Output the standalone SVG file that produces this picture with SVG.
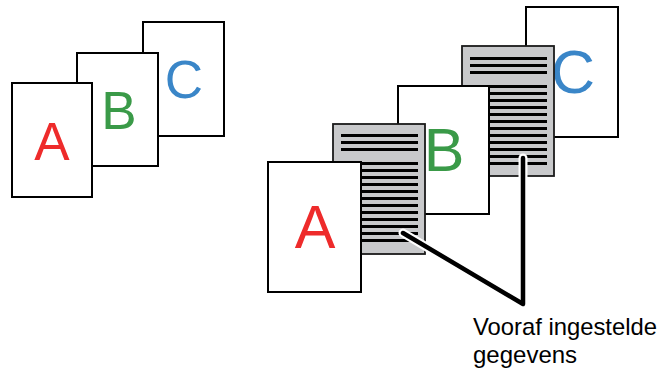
<svg xmlns="http://www.w3.org/2000/svg" width="659" height="374" viewBox="0 0 659 374">
<defs>
<style>
.page{fill:#fff;stroke:#000;stroke-width:2}
.doc{fill:#c8c9cb;stroke:#1a1a1a;stroke-width:1.8}
.ln{stroke:#000;stroke-width:3}
.lt{font-family:"Liberation Sans",Arial,sans-serif;text-anchor:middle}
.red{fill:#ee2b2b}.green{fill:#3a9a48}.blue{fill:#3a86c8}
.lbl{font-family:"Liberation Sans",Arial,sans-serif;font-size:24px;fill:#000}
</style>
<g id="lines">
<path class="ln" d="M8 12.5h77M8 19.5h77M8 26.5h77M8 40.5h77M8 47.5h77M8 54.5h77M8 61.5h77M8 68.5h77M8 75.5h77M8 82.5h77M8 89.5h77M8 96.5h77M8 103.5h77M8 110.5h77M8 117.5h77"/>
</g>
</defs>
<g id="left-C"><rect class="page" x="143" y="22" width="81" height="114"/><text class="lt blue" x="184" y="98" font-size="53">C</text></g>
<g id="left-B"><rect class="page" x="77" y="53" width="81" height="113"/><text class="lt green" x="119" y="129" font-size="53">B</text></g>
<g id="left-A"><rect class="page" x="12" y="83" width="80" height="114"/><text class="lt red" x="52" y="160" font-size="53">A</text></g>
<g id="right-C"><rect class="page" x="526" y="7" width="92" height="130"/><text class="lt blue" x="573" y="93" font-size="61">C</text></g>
<g id="doc2"><rect class="doc" x="462" y="46" width="92" height="130"/><use href="#lines" x="462" y="46"/></g>
<g id="right-B"><rect class="page" x="398" y="86" width="91" height="128"/><text class="lt green" x="444" y="171" font-size="61">B</text></g>
<g id="doc1"><rect class="doc" x="333" y="124" width="92" height="130"/><use href="#lines" x="333" y="123"/></g>
<g id="right-A"><rect class="page" x="268" y="162" width="93" height="130"/><text class="lt red" x="315" y="248" font-size="61">A</text></g>
<g id="connectors" fill="none" stroke-linecap="round" stroke-linejoin="round">
<polyline points="403,233 523,304 523,158" stroke="#fff" stroke-width="9"/>
<polyline points="403,233 523,304 523,158" stroke="#000" stroke-width="4.5"/>
</g>
<g id="label">
<text class="lbl" x="473" y="335" textLength="184" lengthAdjust="spacingAndGlyphs">Vooraf ingestelde</text>
<text class="lbl" x="473" y="363">gegevens</text>
</g>
</svg>
